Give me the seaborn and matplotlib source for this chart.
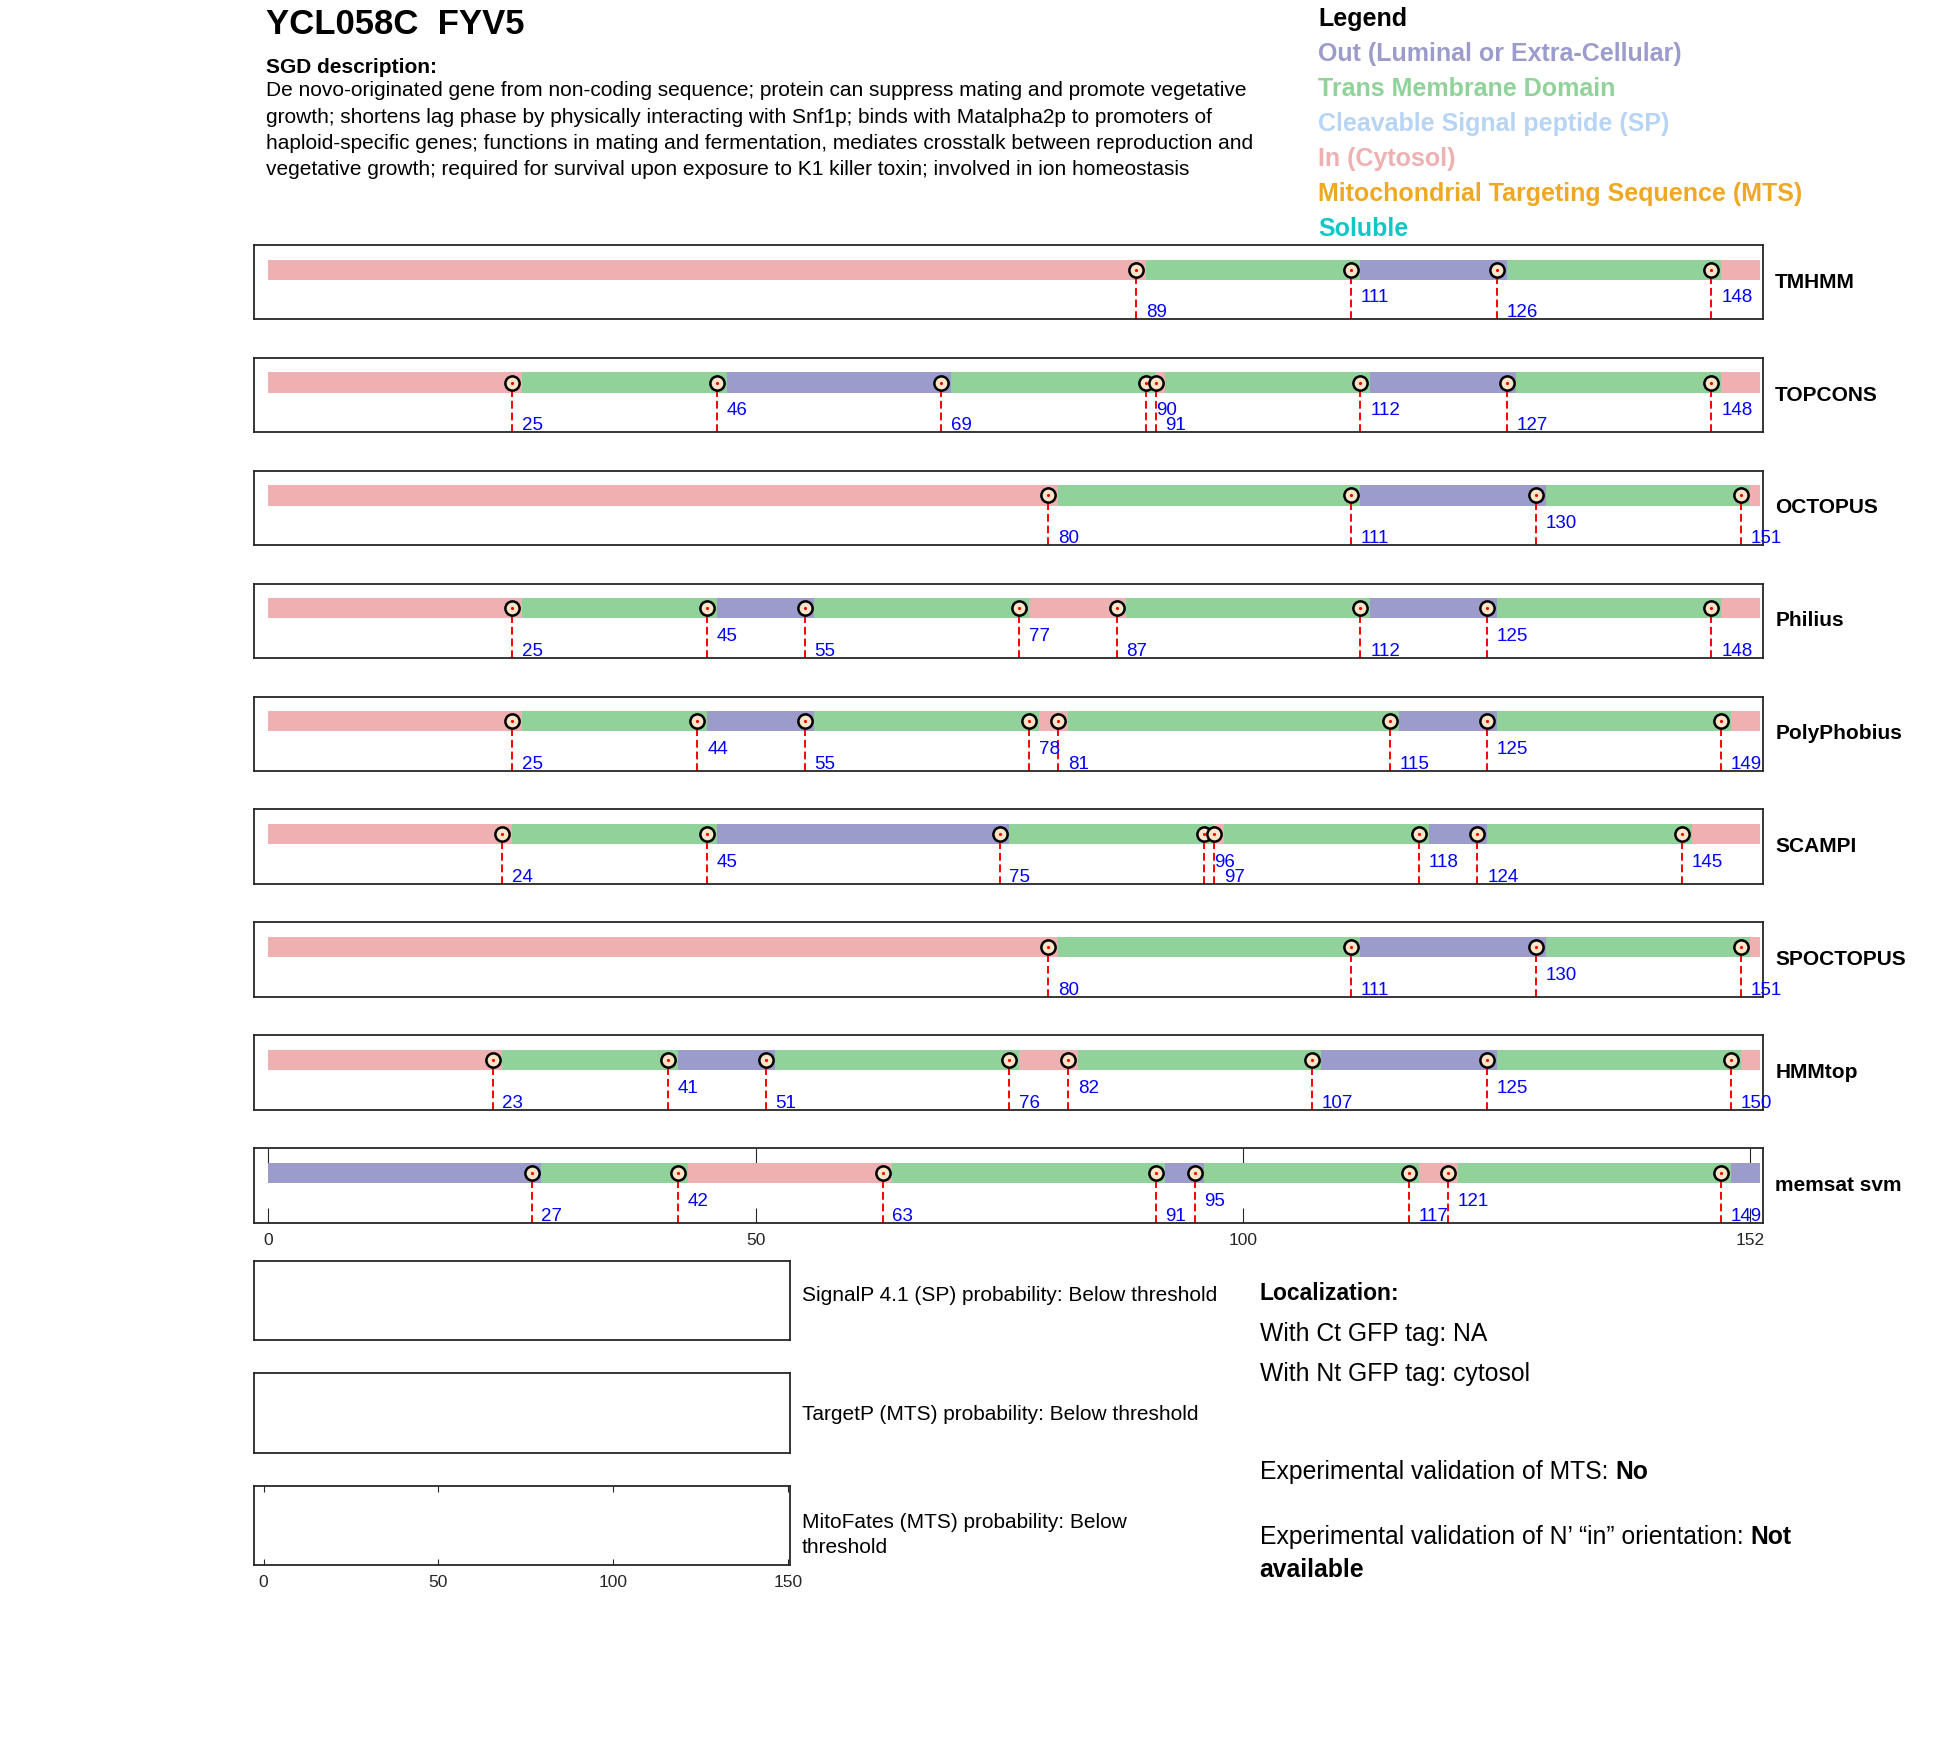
import matplotlib
matplotlib.use("Agg")
import matplotlib.pyplot as plt
import seaborn as sns

# protein and predictor data
gene_title = "YCL058C  FYV5"
seq_len = 152
tools = ["TMHMM", "TOPCONS", "OCTOPUS", "Philius", "PolyPhobius",
         "SCAMPI", "SPOCTOPUS", "HMMtop", "memsat svm"]

# boundary residues of each predicted segment
tmhmm_b = [89, 111, 126, 148]
topcons_b = [25, 46, 69, 90, 91, 112, 127, 148]
octopus_b = [80, 111, 130, 151]
philius_b = [25, 45, 55, 77, 87, 112, 125, 148]
polyphobius_b = [25, 44, 55, 78, 81, 115, 125, 149]
scampi_b = [24, 45, 75, 96, 97, 118, 124, 145]
spoctopus_b = [80, 111, 130, 151]
hmmtop_b = [23, 41, 51, 76, 82, 107, 125, 150]
memsat_b = [27, 42, 63, 91, 95, 117, 121, 149]

# i = in (cytosol), M = trans membrane, o = out
tmhmm_t = "iMoMi"
topcons_t = "iMoMiMoMi"
octopus_t = "iMoMi"
philius_t = "iMoMiMoMi"
polyphobius_t = "iMoMiMoMi"
scampi_t = "iMoMiMoMi"
spoctopus_t = "iMoMi"
hmmtop_t = "iMoMiMoMi"
memsat_t = "oMiMoMiMo"

# where the number label sits: L = low, H = high
tmhmm_l = "LHLH"
topcons_l = "LHLHLHLH"
octopus_l = "LLHL"
philius_l = "LHLHLLHL"
polyphobius_l = "LHLHLLHL"
scampi_l = "LHLHLHLH"
spoctopus_l = "LLHL"
hmmtop_l = "LHLLHLHL"
memsat_l = "LHLLHLHL"

bounds = [tmhmm_b, topcons_b, octopus_b, philius_b, polyphobius_b,
          scampi_b, spoctopus_b, hmmtop_b, memsat_b]
topos = [tmhmm_t, topcons_t, octopus_t, philius_t, polyphobius_t,
         scampi_t, spoctopus_t, hmmtop_t, memsat_t]
levels = [tmhmm_l, topcons_l, octopus_l, philius_l, polyphobius_l,
          scampi_l, spoctopus_l, hmmtop_l, memsat_l]

legend_labels = ["Out (Luminal or Extra-Cellular)", "Trans Membrane Domain",
                 "Cleavable Signal peptide (SP)", "In (Cytosol)",
                 "Mitochondrial Targeting Sequence (MTS)", "Soluble"]
legend_colors = ["#9b9ccb", "#90d29a", "#b8d4f4", "#efb0b1", "#efa823", "#11c6c6"]
seg_colors = {"o": "#9b9ccb", "M": "#90d29a", "i": "#efb0b1"}

description = [
    "De novo-originated gene from non-coding sequence; protein can suppress mating and promote vegetative",
    "growth; shortens lag phase by physically interacting with Snf1p; binds with Matalpha2p to promoters of",
    "haploid-specific genes; functions in mating and fermentation, mediates crosstalk between reproduction and",
    "vegetative growth; required for survival upon exposure to K1 killer toxin; involved in ion homeostasis",
]
prob_texts = ["SignalP 4.1 (SP) probability: Below threshold",
              "TargetP (MTS) probability: Below threshold",
              "MitoFates (MTS) probability: Below\nthreshold"]

sns.set_style("white")
plt.rcParams['font.family'] = ['Liberation Sans', 'DejaVu Sans']
plt.rcParams['text.color'] = 'black'

W, H = 1950, 1761
S = 0.995
fig = plt.figure(figsize=(W / 100, H / 100), dpi=100)


def rect(left, top, w, h):
    left, top, w, h = left * S, top * S, w * S, h * S
    return [left / W, 1 - (top + h) / H, w / W, h / H]


def ftext(x, y, s, **kw):
    return fig.text(x * S / W, 1 - y * S / H, s, **kw)


# header
ftext(267, 25, gene_title, fontsize=25, fontweight="bold", va="center")
ftext(267, 68, "SGD description:", fontsize=15, fontweight="bold", va="center")
for i, line in enumerate(description):
    ftext(267, 91 + i * 26.6, line, fontsize=15, va="center")

ftext(1325, 19, "Legend", fontsize=18, fontweight="bold", va="center")
for i, (lab, col) in enumerate(zip(legend_labels, legend_colors)):
    ftext(1325, 54 + i * 35.3, lab, fontsize=18, fontweight="bold", color=col, va="center")

# predictor tracks
bar_y = 0.667
for k, name in enumerate(tools):
    top = 246 + k * 113.5
    ax = fig.add_axes(rect(255, top, 1517, 75))
    b = bounds[k]
    starts = [0] + [v + 1 for v in b]
    ends = [v + 1 for v in b] + [seq_len + 1]
    widths = [e - s for s, e in zip(starts, ends)]
    cols = [seg_colors[c] for c in topos[k]]
    ax.barh([bar_y] * len(starts), widths, left=starts, height=0.27,
            color=cols, edgecolor="none", zorder=1)
    ax.vlines(b, 0, bar_y, colors="red", linestyles=(0, (4, 2)), lw=1.4, zorder=2)
    sns.scatterplot(x=b, y=[bar_y] * len(b), ax=ax, s=105, color="#fce6c9",
                    edgecolor="black", linewidth=1.8, zorder=4, legend=False)
    ax.plot(b, [bar_y] * len(b), ls="none", marker=".", ms=2.5, color="red", zorder=5)
    for v, lv in zip(b, levels[k]):
        ax.text(v + 1, 0.09 if lv == "L" else 0.29, str(v), color="blue",
                fontsize=13.5, va="center", ha="left")
    ax.set_xlim(-1.5, 153.3)
    ax.set_ylim(0, 1)
    ax.set_yticks([])
    if name == "memsat svm":
        ax.set_xticks([0, 50, 100, 152])
        ax.tick_params(axis="x", direction="in", top=True, bottom=True,
                       length=11, width=0.8, color="#262626",
                       labelsize=12.5, labelcolor="#262626", pad=7)
    else:
        ax.set_xticks([])
    for sp in ax.spines.values():
        sp.set_color("#262626")
        sp.set_linewidth(1.3)
    ax.text(1.008, 0.5, name, transform=ax.transAxes, fontsize=15,
            fontweight="bold", va="center", ha="left")

# probability boxes
box_tops = [1267, 1380, 1493]
text_y = [0.56, 0.48, 0.38]
for k, top in enumerate(box_tops):
    ax = fig.add_axes(rect(255, top, 539, 80))
    ax.set_xlim(-2.8, 150.6)
    ax.set_ylim(0, 1)
    ax.set_yticks([])
    if k == 2:
        ax.set_xticks([0, 50, 100, 150])
        ax.tick_params(axis="x", direction="in", top=True, bottom=True,
                       length=4, width=0.8, color="#262626",
                       labelsize=12.5, labelcolor="#262626", pad=7)
    else:
        ax.set_xticks([])
    for sp in ax.spines.values():
        sp.set_color("#262626")
        sp.set_linewidth(1.3)
    ax.text(1.022, text_y[k], prob_texts[k], transform=ax.transAxes, fontsize=15,
            va="center", ha="left", linespacing=1.4)

# localization text
renderer = fig.canvas.get_renderer()
loc_size = 17.8


def mixed(x, y, normal, bold):
    t = ftext(x, y, normal, fontsize=loc_size, va="center")
    bb = t.get_window_extent(renderer)
    fig.text(bb.x1 / W, 1 - y * S / H, bold, fontsize=loc_size,
             fontweight="bold", va="center")


ftext(1266, 1300, "Localization:", fontsize=16.5, fontweight="bold", va="center")
ftext(1266, 1341, "With Ct GFP tag: NA", fontsize=loc_size, va="center")
ftext(1266, 1381, "With Nt GFP tag: cytosol", fontsize=loc_size, va="center")
mixed(1266, 1479, "Experimental validation of MTS: ", "No")
mixed(1266, 1545, "Experimental validation of N\u2019 \u201cin\u201d orientation: ", "Not")
ftext(1266, 1578, "available", fontsize=loc_size, fontweight="bold", va="center")

fig.savefig("out.png", dpi=100)
